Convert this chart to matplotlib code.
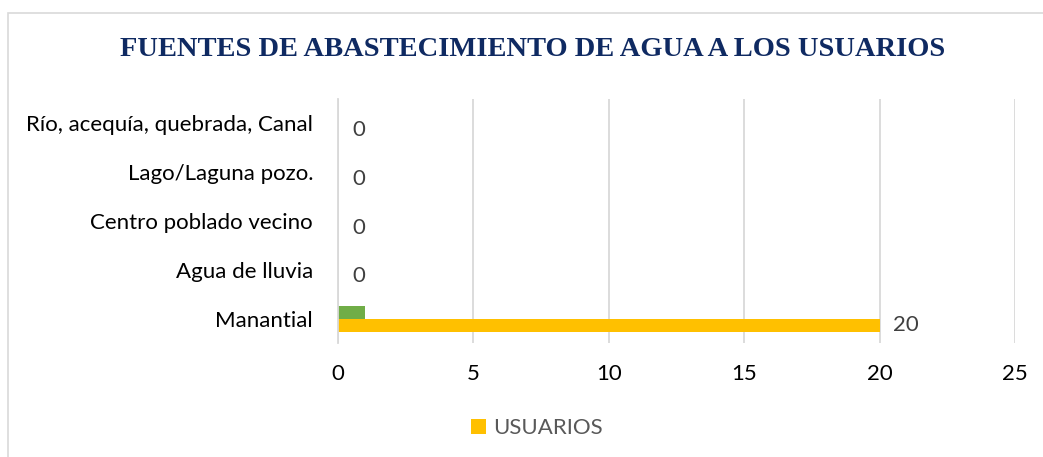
from matplotlib import pyplot as plt
from matplotlib.patches import Rectangle
import numpy as np

categorias = ["Río, acequía, quebrada, Canal", "Lago/Laguna pozo.",
              "Centro poblado vecino", "Agua de lluvia", "Manantial"]
usuarios = [0, 0, 0, 0, 20]
otros = [0, 0, 0, 0, 1]
ticks_x = [0, 5, 10, 15, 20, 25]

FONT = 'Lato'
FS = 16
W, H = 1043, 457

fig = plt.figure(figsize=(W / 100, H / 100), dpi=100)
ax = fig.add_axes([338 / W, 1 - 343 / H, (1015 - 338) / W, (343 - 99) / H])

# borde del grafico
fig.patches.append(Rectangle((8 / W, -0.1), 1.2, 1 - 13 / H + 0.1,
                             transform=fig.transFigure, fill=False,
                             edgecolor='#D9D9D9', linewidth=1.2))

y = np.arange(len(categorias))
h = 0.267
ax.barh(y + h / 2, usuarios, height=h, color='#FFC000', label='USUARIOS', zorder=3)
ax.barh(y - h / 2, otros, height=h, color='#70AD47', zorder=3)

for yi, v in zip(y, usuarios):
    ax.annotate(str(v), (v, yi + h / 2), xytext=(10, 0), textcoords='offset points',
                va='center', ha='left', fontsize=FS, color='#404040', family=FONT)

ax.set_xlim(0, 25)
ax.set_ylim(len(categorias) - 0.5, -0.5)
ax.set_xticks(ticks_x)
ax.set_xticklabels([str(t) for t in ticks_x], fontsize=FS, family=FONT, color='black')
ax.set_yticks(y)
ax.set_yticklabels(categorias, fontsize=FS, family=FONT, color='black')
ax.tick_params(length=0)
ax.tick_params(axis='x', pad=15)
ax.tick_params(axis='y', pad=18)
ax.grid(axis='x', color='#D9D9D9', linewidth=1.3, zorder=0)
for s in ['top', 'right', 'bottom']:
    ax.spines[s].set_visible(False)
ax.spines['left'].set_color('#D9D9D9')
ax.spines['left'].set_linewidth(1.3)
ax.spines['left'].set_zorder(4)

fig.text(533 / W, 1 - 50 / H, 'FUENTES DE ABASTECIMIENTO DE AGUA A LOS USUARIOS',
         ha='center', va='center', fontsize=20.5, fontweight='bold',
         family='Liberation Serif', color='#0F2A62')

leg = fig.legend(loc='center', bbox_to_anchor=(537 / W, 1 - 428 / H), frameon=False,
                 prop={'family': FONT, 'size': FS}, handlelength=0.65, handleheight=0.65,
                 handletextpad=0.35)
for t in leg.get_texts():
    t.set_color('#595959')

fig.savefig('out.png', dpi=100)
